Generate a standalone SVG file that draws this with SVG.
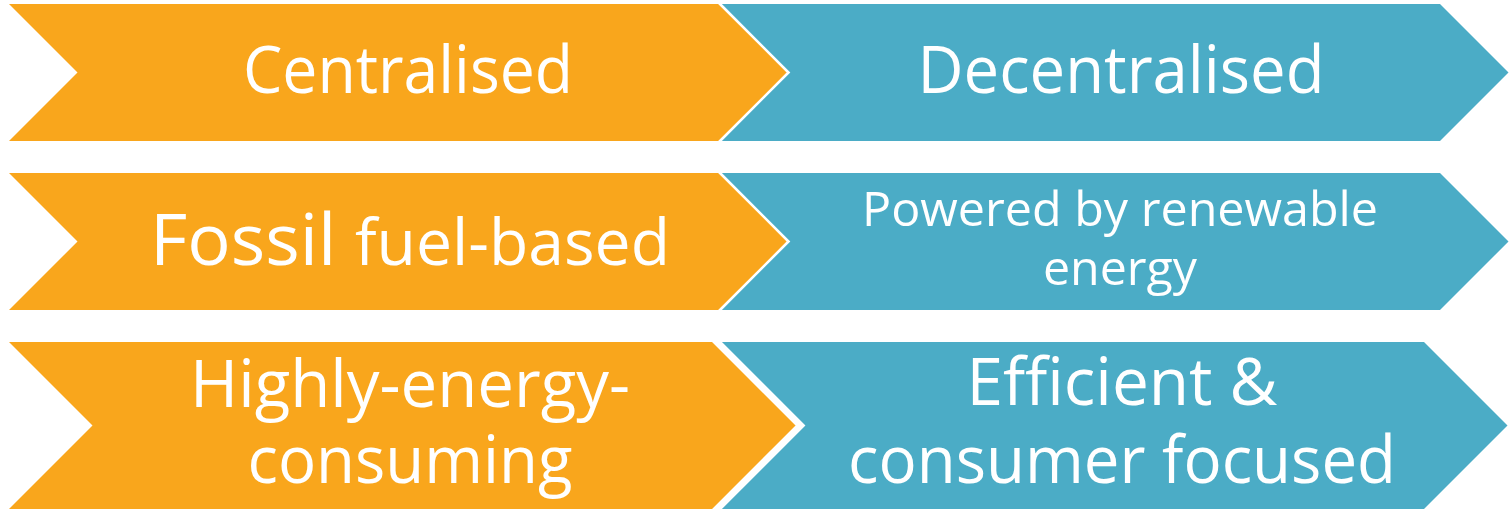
<svg xmlns="http://www.w3.org/2000/svg" width="1509" height="510" viewBox="0 0 1509 510">
<style>
.o{fill:#F9A61C}
.b{fill:#4BACC6}
.sep{fill:none;stroke:#FFFFFF;stroke-linejoin:miter}
text{font-family:"Open Sans","Noto Sans",sans-serif;fill:#FFFFFF;text-anchor:middle}
</style>
<rect width="1509" height="510" fill="#FFFFFF"/>
<g id="centralised">
<polygon class="o" points="9,4 720,4 788.5,72.5 720,141 9,141 77.5,72.5"/>
<text x="408" y="93" font-size="66" textLength="330" lengthAdjust="spacingAndGlyphs">Centralised</text>
</g>
<g id="decentralised">
<polygon class="b" points="720,4 1440,4 1508.5,72.5 1440,141 720,141 788.5,72.5"/>
<polyline class="sep" stroke-width="2.6" points="718,2 788.5,72.5 718,143"/>
<text x="1121" y="93" font-size="66" textLength="407" lengthAdjust="spacingAndGlyphs">Decentralised</text>
</g>
<g id="fossil">
<polygon class="o" points="9,173 720,173 788.5,241.5 720,310 9,310 77.5,241.5"/>
<text x="410" y="265" textLength="520" lengthAdjust="spacingAndGlyphs"><tspan font-size="72">Fossil </tspan><tspan font-size="64">fuel-based</tspan></text>
</g>
<g id="renewable">
<polygon class="b" points="720,173 1440,173 1508.5,241.5 1440,310 720,310 788.5,241.5"/>
<polyline class="sep" stroke-width="2.6" points="718,171 788.5,241.5 718,312"/>
<text x="1120" y="226" font-size="48" textLength="516" lengthAdjust="spacingAndGlyphs">Powered by renewable</text>
<text x="1120" y="285" font-size="48" textLength="154" lengthAdjust="spacingAndGlyphs">energy</text>
</g>
<g id="consuming">
<polygon class="o" points="9,342 717,342 800.5,425.5 717,509 9,509 92.5,425.5"/>
<text x="410" y="407" font-size="66" textLength="440" lengthAdjust="spacingAndGlyphs">Highly-energy-</text>
<text x="410" y="483" font-size="66" textLength="325" lengthAdjust="spacingAndGlyphs">consuming</text>
</g>
<g id="efficient">
<polygon class="b" points="717,342 1424,342 1507.5,425.5 1424,509 717,509 800.5,425.5"/>
<polyline class="sep" stroke-width="7" points="713,338 800.5,425.5 713,513"/>
<text x="1122" y="405" font-size="66" textLength="311" lengthAdjust="spacingAndGlyphs">Efficient &amp;</text>
<text x="1122" y="483" font-size="66" textLength="548" lengthAdjust="spacingAndGlyphs">consumer focused</text>
</g>
<g id="connectors"></g>
</svg>
